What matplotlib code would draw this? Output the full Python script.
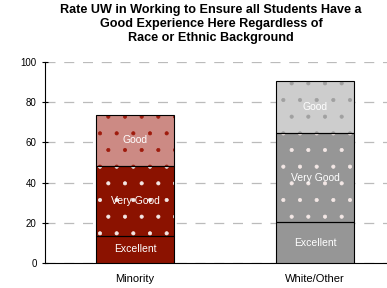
import matplotlib
matplotlib.use("Agg")
import matplotlib.pyplot as plt
import numpy as np

plt.rcParams['font.family'] = ['Liberation Sans', 'DejaVu Sans']
plt.rcParams['hatch.linewidth'] = 0.5

# data
groups = ["Minority", "White/Other"]
levels = ["Excellent", "Very Good", "Good"]
excellent = [13.6, 20.2]
very_good = [34.7, 44.6]
good = [25.3, 25.9]

fill_dark = ["#8B1200", "#969696"]
fill_light = ["#CC8A84", "#CDCDCD"]
mark_light = ["#9E1A0C", "#A0A0A0"]

fig = plt.figure(figsize=(3.87, 2.88), dpi=100)
ax = fig.add_axes([45 / 387, 1 - 263 / 288, 360 / 387, 201 / 288])

x = np.array([0.5, 1.5])
w = 0.43
series = [excellent, very_good, good]
bottom = np.zeros(2)
for k, vals in enumerate(series):
    vals = np.array(vals)
    for i in range(2):
        if k == 2:
            fc, hc, hatch = fill_light[i], mark_light[i], "."
        elif k == 1:
            fc, hc, hatch = fill_dark[i], "#F4E8E6", "."
        else:
            fc, hc, hatch = fill_dark[i], None, None
        if hatch:
            ax.bar(x[i], vals[i], w, bottom=bottom[i], color=fc, hatch=hatch,
                   edgecolor=hc, linewidth=0, zorder=3)
        else:
            ax.bar(x[i], vals[i], w, bottom=bottom[i], color=fc, linewidth=0, zorder=3)
        ax.bar(x[i], vals[i], w, bottom=bottom[i], facecolor="none",
               edgecolor="black", linewidth=0.8, zorder=4)
        ax.text(x[i], bottom[i] + vals[i] / 2, levels[k], ha="center", va="center",
                color="white", fontsize=7.5, zorder=5)
    bottom = bottom + vals

ax.set_xlim(0, 2)
ax.set_ylim(0, 100)
ax.set_yticks([0, 20, 40, 60, 80, 100])
ax.tick_params(axis="y", labelsize=7, direction="inout", length=5, width=0.8)
ax.set_xticks(x)
ax.set_xticklabels(groups, fontsize=8)
ax.tick_params(axis="x", length=0, pad=8)
ax.yaxis.grid(True, color="#BBBBBB", linestyle=(0, (8, 7)), linewidth=0.9, zorder=0)
ax.set_axisbelow(True)
for s in ["top", "right"]:
    ax.spines[s].set_visible(False)
ax.spines["left"].set_linewidth(0.8)
ax.spines["bottom"].set_linewidth(0.8)

fig.text(211 / 387, 1 - 4 / 288,
         "Rate UW in Working to Ensure all Students Have a\nGood Experience Here Regardless of\nRace or Ethnic Background",
         ha="center", va="top", fontsize=9.1, fontweight="bold", linespacing=1.25)

fig.savefig("out.png", dpi=100)
